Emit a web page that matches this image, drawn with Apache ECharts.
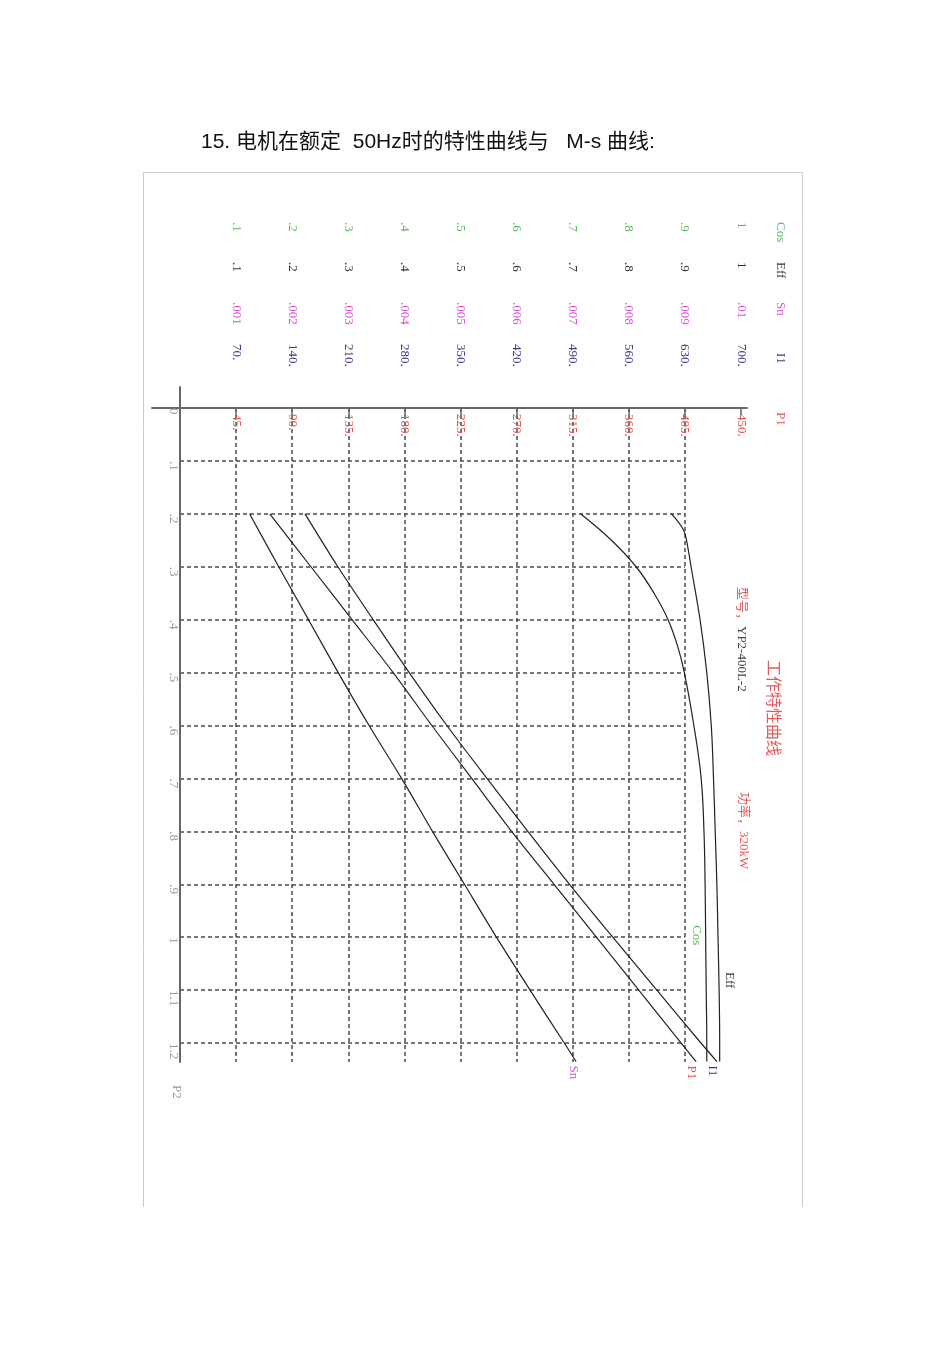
<!DOCTYPE html>
<html><head><meta charset="utf-8">
<script src="https://cdn.jsdelivr.net/npm/echarts@6.0.0/dist/echarts.min.js"></script>
<style>html,body{margin:0;padding:0;background:#fff;}#c{width:950px;height:1345px;}</style>
</head><body><div id="c"></div>
<script>
// ---------- data ----------
const p2Ticks = [0, 0.1, 0.2, 0.3, 0.4, 0.5, 0.6, 0.7, 0.8, 0.9, 1.0, 1.1, 1.2];
const p2TickLabels = ['0', '.1', '.2', '.3', '.4', '.5', '.6', '.7', '.8', '.9', '1', '1.1', '1.2'];
const cosTicks = [0.1, 0.2, 0.3, 0.4, 0.5, 0.6, 0.7, 0.8, 0.9, 1.0];
const cosTickLabels = ['.1', '.2', '.3', '.4', '.5', '.6', '.7', '.8', '.9', '1'];
const effTicks = [0.1, 0.2, 0.3, 0.4, 0.5, 0.6, 0.7, 0.8, 0.9, 1.0];
const effTickLabels = ['.1', '.2', '.3', '.4', '.5', '.6', '.7', '.8', '.9', '1'];
const snTicks = [0.001, 0.002, 0.003, 0.004, 0.005, 0.006, 0.007, 0.008, 0.009, 0.01];
const snTickLabels = ['.001', '.002', '.003', '.004', '.005', '.006', '.007', '.008', '.009', '.01'];
const i1Ticks = [70, 140, 210, 280, 350, 420, 490, 560, 630, 700];
const i1TickLabels = ['70.', '140.', '210.', '280.', '350.', '420.', '490.', '560.', '630.', '700.'];
const p1Ticks = [45, 90, 135, 180, 225, 270, 315, 360, 405, 450];
const p1TickLabels = ['45.', '90.', '135.', '180.', '225.', '270.', '315.', '360.', '405.', '450.'];

const lineP2 = [0.2, 0.3, 0.4, 0.5, 0.6, 0.7, 0.8, 0.9, 1.0, 1.1, 1.2, 1.235];
const snValues = [0.00124, 0.00176, 0.00229, 0.00282, 0.00337, 0.00395, 0.0045, 0.00507, 0.00564, 0.00624, 0.00685, 0.00706];
const p1Values = [72, 105, 138, 171, 202, 234, 266, 300, 334, 368, 402, 414];
const i1Values = [156, 197, 241, 286, 333, 383, 434, 486, 540, 595, 650, 670];
const cosP2 = [0.2, 0.25, 0.3, 0.35, 0.4, 0.45, 0.5, 0.6, 0.7, 0.8, 0.9, 1.0, 1.1, 1.2, 1.235];
const cosValues = [0.714, 0.769, 0.813, 0.845, 0.870, 0.887, 0.899, 0.916, 0.929, 0.934, 0.936, 0.937, 0.938, 0.939, 0.939];
const effP2 = [0.2, 0.211, 0.224, 0.237, 0.268, 0.3, 0.4, 0.5, 0.6, 0.7, 0.8, 0.9, 1.0, 1.1, 1.2, 1.235];
const effValues = [0.876, 0.885, 0.894, 0.900, 0.906, 0.911, 0.927, 0.939, 0.947, 0.951, 0.954, 0.957, 0.959, 0.961, 0.962, 0.962];

// ---------- layout ----------
const X0 = 180, XFULL = 561, Y0 = 408, YPER = 529.17;
const LINE_L = 152, G_R = 747, G_T = 387, G_B = 1062;
const fMaxA = (G_R - X0) / XFULL;
const fMinB = (LINE_L - X0) / XFULL;
const SERIF = '"Liberation Serif", "Noto Sans CJK SC", serif';
const C_COS = '#5cb85c', C_EFF = '#333333', C_SN = '#d455d4', C_I1 = '#3a3a8c', C_P1 = '#d9534f', C_P2 = '#999999', C_RED = '#e35b5b';

function fmt(values, labels) {
  return function (v) {
    for (let i = 0; i < values.length; i++) {
      if (Math.abs(v - values[i]) < 1e-7 * Math.max(1, Math.abs(values[i]))) return labels[i];
    }
    return '';
  };
}
function pairs(xs, ys) { return xs.map((x, i) => [x, ys[i]]); }

function labelAxis(scale, ticks, labels, color, offset, name, namePad) {
  return {
    type: 'value', gridIndex: 0, position: 'top', offset: offset,
    min: 0, max: scale * fMaxA,
    axisLine: { show: false, onZero: false },
    axisTick: { show: false },
    splitLine: { show: false },
    axisLabel: {
      customValues: ticks, formatter: fmt(ticks, labels), margin: 0, rotate: 90,
      align: 'left', verticalAlign: 'middle', color: color, fontFamily: SERIF, fontSize: 13
    },
    name: name, nameLocation: 'end', nameGap: 33, nameRotate: -90,
    nameTextStyle: { align: 'left', verticalAlign: 'middle', color: color, fontFamily: SERIF, fontSize: 13, padding: namePad || 0 }
  };
}

const chart = echarts.init(document.getElementById('c'), null, { renderer: 'canvas' });
const lineStyle = { color: '#222', width: 1.2 };

const option = {
  backgroundColor: '#fff',
  animation: false,
  grid: [
    { left: X0, top: G_T, width: G_R - X0, height: G_B - G_T, outerBoundsMode: 'none', containLabel: false },
    { left: X0, top: Y0, width: 0.9 * XFULL, height: G_B - Y0, outerBoundsMode: 'none', containLabel: false },
    { left: LINE_L, top: Y0, width: G_R - LINE_L, height: 20, outerBoundsMode: 'none', containLabel: false }
  ],
  xAxis: [
    { type: 'value', gridIndex: 0, position: 'top', min: 0, max: 450 * fMaxA, show: false, axisLine: { onZero: false } },
    labelAxis(1, cosTicks, cosTickLabels, C_COS, G_T - 222, 'Cos'),
    labelAxis(1, effTicks, effTickLabels, C_EFF, G_T - 262, 'Eff'),
    labelAxis(0.01, snTicks, snTickLabels, C_SN, G_T - 302, 'Sn'),
    labelAxis(700, i1Ticks, i1TickLabels, C_I1, G_T - 344, 'I1', [0, 0, 0, 9]),
    {
      type: 'value', gridIndex: 1, min: 0, max: 0.9, interval: 0.1,
      axisLine: { show: false }, axisTick: { show: false }, axisLabel: { show: false },
      splitLine: { show: true, showMinLine: false, showMaxLine: true, lineStyle: { color: '#4a4a4a', width: 1.5, type: [4, 3] } }
    },
    {
      type: 'value', gridIndex: 2, position: 'top',
      min: 450 * fMinB, max: 450 * fMaxA,
      axisLine: { show: true, onZero: false, lineStyle: { color: '#666', width: 2 } },
      axisTick: { show: true, customValues: p1Ticks, inside: true, length: 7, lineStyle: { color: '#666', width: 1.5 } },
      splitLine: { show: false },
      axisLabel: {
        customValues: p1Ticks, formatter: fmt(p1Ticks, p1TickLabels), inside: true, margin: 6, rotate: 90,
        align: 'left', verticalAlign: 'middle', color: C_P1, fontFamily: SERIF, fontSize: 13
      },
      name: 'P1', nameLocation: 'end', nameGap: 33, nameRotate: -90,
      nameTextStyle: { align: 'left', verticalAlign: 'middle', color: C_P1, fontFamily: SERIF, fontSize: 13, padding: [0, 0, 0, 4] }
    }
  ],
  yAxis: [
    {
      type: 'value', gridIndex: 0, inverse: true, position: 'left',
      min: (G_T - Y0) / YPER, max: (G_B - Y0) / YPER,
      axisLine: { show: true, onZero: false, lineStyle: { color: '#666', width: 2 } },
      axisTick: { show: false },
      splitLine: { show: false },
      axisLabel: {
        customValues: p2Ticks, formatter: fmt(p2Ticks, p2TickLabels), margin: 7, rotate: -90,
        align: 'left', verticalAlign: 'middle', color: C_P2, fontFamily: SERIF, fontSize: 13
      }
    },
    {
      type: 'value', gridIndex: 1, inverse: true, min: 0, max: (G_B - Y0) / YPER, interval: 0.1,
      axisLine: { show: false }, axisTick: { show: false }, axisLabel: { show: false },
      splitLine: { show: true, showMinLine: false, showMaxLine: false, lineStyle: { color: '#4a4a4a', width: 1.5, type: [4, 3] } }
    },
    { type: 'value', gridIndex: 2, min: 0, max: 1, show: false }
  ],
  series: [
    { name: 'Cos', type: 'line', xAxisIndex: 1, yAxisIndex: 0, data: pairs(cosValues, cosP2), symbol: 'none', smooth: 0.4, lineStyle: lineStyle, z: 5 },
    { name: 'Eff', type: 'line', xAxisIndex: 2, yAxisIndex: 0, data: pairs(effValues, effP2), symbol: 'none', smooth: 0.4, lineStyle: lineStyle, z: 5 },
    { name: 'Sn', type: 'line', xAxisIndex: 3, yAxisIndex: 0, data: pairs(snValues, lineP2), symbol: 'none', smooth: 0.3, lineStyle: lineStyle, z: 5 },
    { name: 'I1', type: 'line', xAxisIndex: 4, yAxisIndex: 0, data: pairs(i1Values, lineP2), symbol: 'none', smooth: 0.3, lineStyle: lineStyle, z: 5 },
    { name: 'P1', type: 'line', xAxisIndex: 0, yAxisIndex: 0, data: pairs(p1Values, lineP2), symbol: 'none', smooth: 0.3, lineStyle: lineStyle, z: 5 }
  ]
};
chart.setOption(option);

function px(xi, x, y) { return chart.convertToPixel({ xAxisIndex: xi, yAxisIndex: 0 }, [x, y]); }
function vtext(x, y, text, color, size, extra) {
  return Object.assign({
    type: 'text', x: x, y: y, rotation: -Math.PI / 2, z: 100,
    style: { text: text, fill: color, font: size + 'px ' + SERIF, align: 'left', verticalAlign: 'middle' }
  }, extra || {});
}
const nL = lineP2.length - 1;
const ptSn = px(3, snValues[nL], lineP2[nL]);
const ptP1 = px(0, p1Values[nL], lineP2[nL]);
const ptI1 = px(4, i1Values[nL], lineP2[nL]);
const iCos = cosP2.indexOf(1.0);
const ptCos = px(1, cosValues[iCos], cosP2[iCos]);
const iEff = effP2.indexOf(1.1);
const ptEff = px(2, effValues[iEff], effP2[iEff]);

const graphics = [
  { type: 'polyline', shape: { points: [[143.5, 1207], [143.5, 172.5], [802.5, 172.5], [802.5, 1207]] }, style: { stroke: '#cccccc', lineWidth: 1, fill: null }, silent: true },
  { type: 'text', x: 201, y: 142, style: { text: '15. 电机在额定  50Hz时的特性曲线与   M-s 曲线:', fill: '#111', font: '21px "Liberation Sans", "Noto Sans CJK SC", sans-serif', align: 'left', verticalAlign: 'middle' } },
  vtext(ptSn[0] - 3, ptSn[1] + 4, 'Sn', C_SN, 13),
  vtext(ptP1[0] - 5, ptP1[1] + 4, 'P1', C_P1, 13),
  vtext(ptI1[0] - 5, ptI1[1] + 4, 'I1', C_I1, 13),
  vtext(ptCos[0] - 9, ptCos[1] - 12, 'Cos', C_COS, 13),
  vtext(ptEff[0] + 10, ptEff[1] - 18, 'Eff', C_EFF, 13),
  vtext(176, 1085, 'P2', C_P2, 13),
  {
    type: 'text', x: 741, y: 587, rotation: -Math.PI / 2, z: 100,
    style: { text: '{r|型号，}{k|YP2-400L-2}', align: 'left', verticalAlign: 'middle',
      rich: { r: { fill: C_RED, font: '13px ' + SERIF }, k: { fill: '#444', font: '13px ' + SERIF } } }
  },
  vtext(772, 660, '工作特性曲线', C_RED, 16),
  vtext(743, 792, '功率，320kW', C_RED, 13)
];
chart.setOption({ graphic: graphics });
</script>
</body></html>
